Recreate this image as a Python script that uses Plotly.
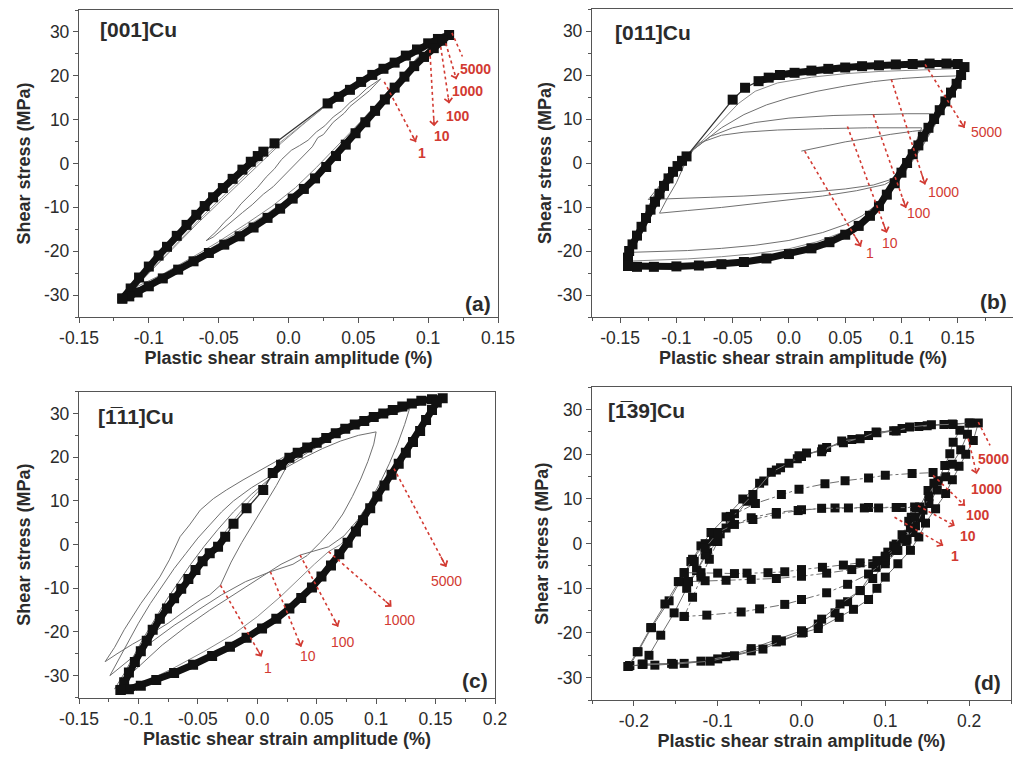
import plotly.graph_objects as go

W, H = 1021, 758
PAGE_OFFSET = 8  # the html body margin shifts the figure by this many pixels
RED = "#d23a32"
INK = "#2b2b2b"
GRAY = "#707070"
FONT = "Liberation Sans, Arial, sans-serif"

# ---------------- Panel (a) [001]Cu ----------------
a_sat_x = [-0.119, -0.113, -0.107, -0.100, -0.093, -0.087, -0.080, -0.073, -0.066, -0.060, -0.054, -0.047,
           -0.040, -0.033, -0.027, -0.022, -0.018, None, -0.010, None, 0.028, 0.036, 0.044, 0.052, 0.060,
           0.068, 0.076, 0.084, 0.092, 0.100, 0.107, 0.115,
           0.110, 0.104, 0.097, 0.090, 0.083, 0.076, 0.069, 0.062, 0.055, 0.048, 0.041, 0.034, 0.027, 0.019,
           0.011, 0.003, -0.006, -0.015, -0.025, -0.035, -0.046, -0.057, -0.068, -0.079, -0.090, -0.100,
           -0.108, -0.114, -0.119]
a_sat_y = [-30.8, -28.5, -26.0, -23.5, -21.0, -19.0, -16.5, -14.0, -11.7, -9.7, -7.7, -5.6,
           -3.5, -1.4, 0.4, 1.7, 2.7, None, 4.6, None, 13.7, 15.2, 16.8, 18.6, 20.2,
           21.6, 23.0, 24.6, 26.0, 27.4, 28.4, 29.3,
           28.0, 26.3, 24.3, 22.2, 19.8, 17.3, 14.6, 12.0, 9.4, 6.9, 4.3, 1.7, -0.8, -3.4,
           -5.8, -8.0, -10.3, -12.4, -14.6, -16.6, -18.5, -20.4, -22.3, -24.2, -26.2, -28.0,
           -29.4, -30.3, -30.8]
a_c1_x = [-0.059, -0.052, -0.046, -0.040, -0.034, -0.028, -0.022, -0.016, -0.010, -0.005, 0.002, 0.008, 0.014,
          0.020, 0.026, 0.032, 0.038, 0.044, 0.050, 0.056, 0.063, 0.066,
          0.058, 0.050, 0.044, 0.040, 0.032, 0.025, 0.021, 0.017, 0.010, 0.003, -0.004, -0.011, -0.018,
          -0.026, -0.033, -0.040, -0.047, -0.054, -0.059]
a_c1_y = [-17.6, -15.6, -13.4, -11.6, -9.2, -7.3, -5.4, -3.1, -1.2, 0.9, 3.0, 4.1, 5.3,
          7.2, 8.6, 10.6, 12.0, 13.9, 15.3, 17.1, 18.7, 19.3,
          16.6, 14.5, 13.0, 11.5, 9.4, 6.6, 5.9, 3.8, 1.5, -0.6, -3.0, -5.3, -7.0,
          -9.4, -11.2, -13.0, -14.9, -16.8, -17.6]
a_c10_x = [-0.110, -0.095, -0.080, -0.065, -0.050, -0.035, -0.020, -0.005, 0.010, 0.025, 0.040, 0.055, 0.070,
           0.085, 0.100, 0.090, 0.078, 0.065, 0.050, 0.035, 0.020, 0.005, -0.012, -0.030, -0.050, -0.070,
           -0.090, -0.110]
a_c10_y = [-28.3, -23.5, -18.5, -13.6, -9.0, -4.5, 0.3, 4.7, 8.8, 12.7, 16.2, 19.5, 22.2,
           24.6, 26.8, 23.4, 19.0, 14.2, 9.0, 4.0, -0.9, -5.5, -9.8, -13.7, -17.8, -21.6,
           -25.2, -28.3]
a_c100_x = [-0.116, -0.104, -0.090, -0.076, -0.062, -0.048, -0.034, -0.020, -0.006, 0.010, 0.026, 0.042,
            0.058, 0.074, 0.090, 0.109, 0.100, 0.088, 0.075, 0.061, 0.047, 0.032, 0.016, 0.000, -0.018,
            -0.038, -0.058, -0.078, -0.098, -0.116]
a_c100_y = [-29.8, -26.2, -21.6, -16.8, -12.2, -7.8, -3.4, 0.8, 4.8, 9.0, 13.0, 16.6,
            19.8, 22.8, 25.4, 27.6, 25.0, 20.8, 16.2, 11.2, 6.2, 1.2, -3.6, -8.0, -12.0,
            -16.0, -19.8, -23.4, -27.0, -29.8]
a_arrow_x0 = [0.0686, 0.1012, 0.1090, 0.1126, 0.1170]
a_arrow_y0 = [18.6, 25.9, 26.6, 27.4, 29.8]
a_arrow_x1 = [0.0912, 0.1043, 0.1150, 0.1202, 0.1245]
a_arrow_y1 = [4.9, 8.5, 13.7, 19.2, 24.4]
a_label_x = [0.0959, 0.1098, 0.1214, 0.1280, 0.1336]
a_label_y = [2.3, 6.2, 10.9, 16.6, 21.5]
cycle_labels = ["1", "10", "100", "1000", "5000"]

# ---------------- Panel (b) [011]Cu ----------------
b_sat_x = [-0.143, -0.143, -0.142, -0.139, -0.135, -0.131, -0.127, -0.123, -0.119, -0.115, -0.111, -0.107,
           -0.103, -0.099, -0.095, -0.091, None, -0.050, None, -0.039, None, -0.027, -0.018, -0.008, 0.005,
           0.020, 0.035, 0.050, 0.065, 0.080, 0.095, 0.110, 0.125, 0.140, 0.150, 0.156,
           0.153, 0.149, 0.144, 0.139, 0.134, 0.129, 0.124, 0.119, 0.115, 0.110, 0.105, 0.100, 0.094, 0.087,
           0.080, 0.072, 0.062, 0.050, 0.036, 0.020, 0.000, -0.020, -0.040, -0.060, -0.080, -0.100, -0.120,
           -0.135, -0.143]
b_sat_y = [-23.4, -21.5, -20.0, -18.5, -16.5, -14.5, -12.5, -10.6, -8.8, -7.0, -5.2, -3.5,
           -2.0, -0.7, 0.5, 1.5, None, 14.4, None, 17.1, None, 18.6, 19.4, 20.0, 20.5,
           21.0, 21.4, 21.7, 22.0, 22.2, 22.4, 22.5, 22.6, 22.6, 22.5, 21.8,
           20.0, 18.0, 16.0, 14.0, 12.0, 10.0, 8.0, 6.0, 4.0, 2.0, 0.0, -2.2, -4.6, -7.2,
           -9.8, -12.0, -14.3, -16.3, -18.0, -19.4, -20.7, -21.7, -22.5, -23.0, -23.3, -23.5, -23.6,
           -23.6, -23.4]
b_init_x = [0.011, 0.030, 0.050, 0.070, 0.090, 0.110, 0.120]
b_init_y = [2.7, 3.8, 4.8, 5.6, 6.5, 7.2, 7.5]
b_c1_x = [-0.125, -0.118, -0.110, -0.102, -0.095, -0.090, -0.080, -0.060, -0.040, -0.010, 0.030, 0.070,
          0.118, 0.114, 0.110, 0.106, 0.100, 0.090, 0.075, 0.050, 0.020, -0.010, -0.040, -0.070,
          -0.100, -0.125]
b_c1_y = [-8.3, -6.2, -3.6, -1.2, 0.6, 1.6, 4.5, 6.3, 7.0, 7.5, 7.8, 8.0,
          8.0, 5.5, 3.0, 0.5, -1.8, -3.8, -5.0, -5.9, -6.6, -7.1, -7.5, -7.8,
          -8.0, -8.3]
b_c10_x = [-0.115, -0.108, -0.100, -0.094, -0.088, -0.085, -0.070, -0.050, -0.030, 0.000, 0.040, 0.080,
           0.105, 0.128, 0.124, 0.119, 0.113, 0.106, 0.098, 0.085, 0.060, 0.030, 0.000, -0.030, -0.060,
           -0.090, -0.115]
b_c10_y = [-11.4, -8.0, -4.5, -1.0, 1.8, 3.0, 6.0, 8.0, 9.2, 10.2, 10.8, 11.1,
           11.2, 11.2, 8.0, 5.0, 2.0, -0.8, -3.0, -4.9, -6.3, -7.5, -8.4, -9.3, -10.1,
           -10.8, -11.4]
b_c100_x = [-0.140, -0.137, -0.132, -0.125, -0.117, -0.108, -0.098, -0.090, -0.075, -0.060, -0.040, -0.020,
            0.000, 0.025, 0.050, 0.075, 0.100, 0.125, 0.150, 0.148, 0.142, 0.136, 0.128, 0.120, 0.112,
            0.104, 0.096, 0.088, 0.078, 0.065, 0.050, 0.030, 0.000, -0.030, -0.060, -0.090, -0.120, -0.140]
b_c100_y = [-20.3, -17.5, -14.0, -10.0, -6.0, -2.5, 0.5, 2.0, 5.0, 8.0, 11.0, 13.2,
            14.8, 16.3, 17.5, 18.5, 19.2, 19.6, 19.8, 17.5, 14.5, 11.5, 8.0, 4.5, 1.5,
            -1.5, -4.5, -7.0, -9.5, -12.0, -14.0, -15.8, -17.6, -18.7, -19.4, -19.9, -20.2, -20.3]
b_c1000_x = [-0.143, -0.140, -0.134, -0.126, -0.117, -0.107, -0.097, -0.088, -0.075, -0.060, -0.045, -0.030,
             -0.010, 0.020, 0.050, 0.080, 0.110, 0.135, 0.155, 0.152, 0.146, 0.140, 0.133, 0.126, 0.118,
             0.110, 0.102, 0.094, 0.085, 0.075, 0.062, 0.045, 0.025, 0.000, -0.030, -0.060, -0.090,
             -0.120, -0.143]
b_c1000_y = [-22.3, -19.0, -15.0, -10.5, -6.0, -2.2, 0.8, 2.5, 5.5, 9.5, 13.5, 16.3,
             18.2, 19.5, 20.3, 20.8, 21.1, 21.3, 21.5, 19.0, 16.0, 13.0, 10.0, 7.0, 3.5,
             0.5, -2.5, -5.5, -8.5, -11.3, -13.8, -16.0, -17.9, -19.5, -20.6, -21.3, -21.8,
             -22.1, -22.3]
b_arrow_x0 = [0.014, 0.052, 0.075, 0.091, 0.121]
b_arrow_y0 = [2.7, 8.3, 11.0, 19.0, 22.4]
b_arrow_x1 = [0.064, 0.087, 0.104, 0.121, 0.156]
b_arrow_y1 = [-19.0, -15.9, -10.2, -4.9, 8.0]
b_label_x = [0.072, 0.0895, 0.116, 0.137, 0.1755]
b_label_y = [-20.5, -18.1, -11.4, -6.7, 7.0]

# ---------------- Panel (c) [-111]Cu ----------------
c_sat_x = [-0.115, -0.112, -0.108, -0.103, -0.098, -0.093, -0.088, -0.082, -0.076, -0.070, -0.064, -0.058,
           -0.052, -0.046, -0.040, -0.033, -0.027, None, -0.020, None, -0.009, None, 0.005, None, 0.013,
           0.020, 0.027, 0.034, 0.042, 0.050, 0.058, 0.066, 0.074, 0.082, 0.090, 0.098, 0.106, 0.114,
           0.122, 0.130, 0.138, 0.147, 0.156,
           0.151, 0.147, 0.142, 0.137, 0.131, 0.125, 0.119, 0.113, 0.107, 0.101, 0.095, 0.089, 0.083,
           0.076, 0.069, 0.062, 0.054, 0.046, 0.037, 0.027, 0.016, 0.004, -0.009, -0.023, -0.038, -0.054,
           -0.070, -0.085, -0.098, -0.108, -0.115]
c_sat_y = [-33.3, -31.5, -29.3, -26.9, -24.4, -22.0, -19.5, -17.0, -14.6, -12.3, -10.1, -7.9,
           -5.8, -3.8, -2.0, -0.5, 1.8, None, 4.8, None, 8.3, None, 12.5, None, 16.4,
           18.3, 19.9, 21.0, 22.2, 23.3, 24.4, 25.5, 26.5, 27.5, 28.3, 29.2, 30.0, 30.8,
           31.6, 32.3, 32.9, 33.3, 33.5,
           32.5, 30.8, 28.5, 26.0, 23.5, 21.0, 18.5, 16.0, 13.5, 11.0, 8.3, 5.6, 3.0,
           0.4, -2.2, -4.8, -7.3, -9.8, -12.2, -14.6, -17.0, -19.2, -21.3, -23.4, -25.5, -27.5,
           -29.4, -31.0, -32.3, -33.1, -33.3]
c_c1_x = [-0.128, -0.120, -0.112, -0.105, -0.098, -0.090, -0.082, -0.074, -0.065, -0.057, -0.048, -0.037,
          -0.026, -0.012, 0.002, 0.012, 0.022, 0.025, 0.024, 0.016, 0.007, -0.003, -0.013, -0.022, -0.031,
          -0.040, -0.048, -0.060, -0.075, -0.090, -0.105, -0.118, -0.128]
c_c1_y = [-26.8, -23.5, -19.5, -16.5, -13.5, -10.5, -7.4, -3.5, 1.8, 4.5, 7.9, 10.5,
          12.5, 14.8, 17.0, 18.6, 20.0, 20.2, 17.5, 13.5, 9.5, 5.0, 0.5, -4.0, -9.3,
          -11.5, -12.7, -15.0, -18.0, -20.5, -22.8, -25.0, -26.8]
c_c10_x = [-0.124, -0.116, -0.108, -0.100, -0.090, -0.080, -0.070, -0.060, -0.050, -0.040, -0.030, -0.020,
           -0.005, 0.010, 0.025, 0.040, 0.055, 0.070, 0.085, 0.100, 0.098, 0.093, 0.087, 0.080, 0.072,
           0.063, 0.053, 0.042, 0.030, 0.011, -0.010, -0.030, -0.050, -0.070, -0.090, -0.108, -0.124]
c_c10_y = [-30.0, -26.0, -22.0, -18.0, -13.5, -9.5, -5.5, -2.0, 1.5, 4.5, 7.5, 10.0,
           13.0, 15.5, 17.8, 20.0, 22.0, 23.7, 25.0, 25.8, 23.0, 19.0, 15.0, 11.0, 7.0,
           3.5, 0.5, -2.5, -4.5, -6.2, -8.5, -11.5, -15.0, -18.5, -22.5, -26.5, -30.0]
c_c100_x = [-0.120, -0.112, -0.104, -0.096, -0.086, -0.076, -0.066, -0.056, -0.045, -0.033, -0.020, -0.005,
            0.010, 0.027, 0.045, 0.065, 0.085, 0.105, 0.128, 0.124, 0.118, 0.111, 0.103, 0.094, 0.084,
            0.073, 0.060, 0.036, 0.020, 0.000, -0.020, -0.040, -0.060, -0.080, -0.100, -0.120]
c_c100_y = [-33.0, -29.5, -25.5, -21.5, -17.0, -12.5, -8.5, -4.5, -0.5, 3.5, 7.5, 11.5,
            15.0, 18.5, 21.5, 24.5, 27.0, 29.2, 31.0, 27.5, 23.0, 18.5, 14.0, 9.5, 5.5,
            2.0, -0.5, -2.4, -4.5, -8.0, -11.5, -15.0, -18.8, -23.0, -28.0, -33.0]
c_c1000_x = [-0.118, -0.110, -0.100, -0.090, -0.080, -0.070, -0.060, -0.050, -0.040, -0.030, -0.018, -0.005,
             0.010, 0.025, 0.045, 0.065, 0.085, 0.105, 0.125, 0.148, 0.143, 0.136, 0.128, 0.120, 0.111,
             0.102, 0.092, 0.081, 0.070, 0.060, 0.048, 0.035, 0.020, 0.000, -0.020, -0.045, -0.070,
             -0.095, -0.118]
c_c1000_y = [-33.5, -29.5, -25.0, -21.0, -17.0, -13.0, -9.2, -5.5, -1.8, 2.0, 6.2, 10.5,
             14.8, 18.6, 22.2, 25.4, 28.0, 30.3, 32.0, 33.0, 30.0, 26.5, 22.5, 18.6, 14.5,
             10.5, 6.5, 2.8, 0.0, -1.6, -4.5, -8.0, -11.8, -16.5, -20.5, -24.5, -28.2,
             -31.5, -33.5]
c_arrow_x0 = [-0.031, 0.011, 0.036, 0.060, 0.115]
c_arrow_y0 = [-9.3, -6.2, -2.4, -1.6, 17.4]
c_arrow_x1 = [0.0036, 0.037, 0.068, 0.113, 0.159]
c_arrow_y1 = [-25.7, -23.4, -18.8, -14.2, -5.1]
c_label_x = [0.009, 0.043, 0.072, 0.120, 0.159]
c_label_y = [-28.3, -25.6, -22.2, -17.3, -8.3]

# ---------------- Panel (d) [-139]Cu ----------------
d_o1_x = [-0.207, -0.196, -0.180, -0.163, -0.147, -0.130, -0.115, -0.097, -0.080, -0.058, -0.036, -0.015,
          -0.003, 0.006, 0.024, 0.048, 0.070, 0.089, 0.113, 0.129, 0.155, 0.181, 0.201,
          0.189, 0.181, 0.177, 0.171, 0.163, 0.151, 0.141, 0.131, 0.121, 0.113, 0.103, 0.089, 0.070,
          0.046, 0.024, 0.002, -0.024, -0.046, -0.080, -0.109, -0.153, -0.189, -0.207]
d_o1_y = [-27.5, -24.2, -18.8, -13.5, -8.5, -3.5, 0.0, 2.2, 6.7, 11.0, 16.0, 18.0,
          19.7, 20.3, 20.6, 23.0, 23.5, 25.0, 25.2, 26.1, 26.6, 26.7, 27.0,
          25.4, 22.7, 20.1, 17.5, 14.1, 11.9, 8.2, 5.9, 1.4, -0.1, -1.9, -5.3, -10.5,
          -13.5, -16.9, -19.9, -21.8, -23.6, -25.1, -26.3, -27.0, -27.0, -27.5]
d_o2_x = [-0.190, -0.182, -0.168, -0.152, -0.137, -0.125, -0.112, -0.100, -0.085, -0.065, -0.045, -0.025,
          0.000, 0.025, 0.050, 0.080, 0.110, 0.140, 0.170, 0.200,
          0.198, 0.190, 0.180, 0.172, 0.162, 0.152, 0.142, 0.133, 0.125, 0.115, 0.100, 0.085, 0.070,
          0.055, 0.040, 0.020, 0.000, -0.030, -0.060, -0.090, -0.120, -0.155, -0.190]
d_o2_y = [-27.0, -25.0, -20.5, -15.5, -10.0, -6.0, -2.0, 0.5, 4.5, 9.5, 14.0, 17.0,
          19.5, 21.2, 22.6, 24.2, 25.3, 26.2, 26.7, 27.0,
          24.5, 21.0, 17.8, 15.0, 12.0, 9.0, 5.8, 2.5, 0.5, -1.5, -4.5, -7.8, -10.5,
          -13.0, -15.5, -18.0, -19.5, -21.5, -23.5, -25.3, -26.3, -26.8, -27.0]
d_o3_x = [-0.205, -0.195, -0.179, -0.158, -0.145, -0.132, -0.120, -0.108, -0.090, -0.070, -0.050, -0.030,
          -0.005, 0.030, 0.060, 0.090, 0.120, 0.150, 0.180, 0.211,
          0.205, 0.196, 0.188, 0.180, 0.172, 0.160, 0.148, 0.140, 0.130, 0.115, 0.100, 0.090, 0.080,
          0.062, 0.045, 0.020, 0.000, -0.030, -0.060, -0.100, -0.140, -0.175, -0.205]
d_o3_y = [-27.3, -24.2, -18.8, -12.8, -8.5, -4.0, -0.5, 2.5, 6.0, 10.0, 13.5, 16.5,
          19.0, 21.5, 23.3, 24.8, 25.8, 26.4, 26.8, 27.0,
          23.1, 20.0, 17.3, 14.3, 11.2, 7.8, 4.6, 1.5, -1.5, -4.5, -7.5, -10.0, -12.5,
          -14.7, -16.5, -19.0, -20.0, -22.0, -24.0, -25.8, -26.8, -27.2, -27.3]
d_m10_x = [-0.140, -0.130, -0.120, -0.110, -0.100, -0.085, -0.055, -0.024, -0.003, 0.028, 0.052, 0.080,
           0.100, 0.132, 0.157, 0.158, 0.152, 0.145, 0.136, 0.126, 0.113, 0.100, 0.080, 0.055, 0.030,
           0.000, -0.020, -0.050, -0.072, -0.113, -0.140]
d_m10_y = [-16.3, -12.0, -7.5, -3.5, 0.5, 6.1, 9.0, 11.0, 12.2, 13.4, 14.1, 14.7,
           15.3, 15.7, 15.9, 13.5, 10.5, 7.5, 4.0, 1.0, -1.5, -3.8, -6.8, -9.1, -11.0,
           -12.5, -13.6, -14.6, -15.3, -16.0, -16.3]
d_m1_x = [-0.140, -0.128, -0.115, -0.100, -0.080, -0.058, -0.030, -0.004, 0.024, 0.056, 0.075, 0.092,
          0.113, 0.137, 0.135, 0.130, 0.123, 0.113, 0.100, 0.090, 0.070, 0.050, 0.025, 0.000, -0.020,
          -0.040, -0.065, -0.080, -0.100, -0.120, -0.140]
d_m1_y = [-6.5, -4.0, -1.0, 2.5, 4.3, 5.4, 6.6, 7.4, 7.9, 8.0, 8.0, 8.0,
          8.1, 8.1, 6.0, 3.5, 1.0, -1.0, -3.0, -3.8, -4.3, -4.8, -5.3, -5.8, -6.3,
          -6.5, -6.6, -6.7, -6.6, -6.5, -6.5]
d_m1b_x = [-0.135, -0.125, -0.115, -0.105, -0.090, -0.060, -0.030, 0.000, 0.040, 0.080, 0.120, 0.135,
           0.128, 0.120, 0.110, 0.100, 0.085, 0.060, 0.030, 0.000, -0.030, -0.060, -0.090, -0.115, -0.135]
d_m1b_y = [-8.5, -6.0, -2.5, 0.5, 3.5, 5.8, 7.0, 7.6, 8.0, 8.1, 8.1, 8.2,
           5.0, 2.0, -0.5, -2.8, -4.5, -5.8, -6.6, -7.3, -7.8, -8.0, -8.2, -8.3, -8.5]
d_arrow_x0 = [0.111, 0.139, 0.157, 0.199, 0.211]
d_arrow_y0 = [5.9, 8.5, 15.3, 23.5, 27.2]
d_arrow_x1 = [0.169, 0.183, 0.195, 0.209, 0.225]
d_arrow_y1 = [-0.4, 4.0, 8.5, 15.6, 22.0]
d_label_x = [0.183, 0.199, 0.211, 0.221, 0.229]
d_label_y = [-2.7, 1.8, 6.5, 12.3, 19.0]

# ---------------- Axes ----------------
y_ticks = [-30, -20, -10, 0, 10, 20, 30]
x_ticks_a = [-0.15, -0.1, -0.05, 0.0, 0.05, 0.1, 0.15]
x_text_a = ["-0.15", "-0.1", "-0.05", "0.0", "0.05", "0.1", "0.15"]
x_ticks_c = [-0.15, -0.1, -0.05, 0.0, 0.05, 0.1, 0.15, 0.2]
x_text_c = ["-0.15", "-0.1", "-0.05", "0.0", "0.05", "0.1", "0.15", "0.2"]
x_ticks_d = [-0.2, -0.1, 0.0, 0.1, 0.2]
x_text_d = ["-0.2", "-0.1", "0.0", "0.1", "0.2"]

fig = go.Figure()


def refs(i):
    s = "" if i == 1 else str(i)
    return "x" + s, "y" + s


def gray(xs, ys, i, dash="solid", width=1.0, color=GRAY, markers=False):
    xr, yr = refs(i)
    fig.add_trace(go.Scatter(
        x=xs, y=ys, xaxis=xr, yaxis=yr, mode="lines+markers" if markers else "lines",
        line=dict(color=color, width=width, dash=dash),
        marker=dict(symbol="square", size=9, color="#111111"),
        showlegend=False, hoverinfo="skip"))


def band(xs, ys, i):
    xr, yr = refs(i)
    fig.add_trace(go.Scatter(
        x=xs, y=ys, xaxis=xr, yaxis=yr, mode="lines", connectgaps=True,
        line=dict(color="#333333", width=1.3), showlegend=False, hoverinfo="skip"))
    fig.add_trace(go.Scatter(
        x=xs, y=ys, xaxis=xr, yaxis=yr, mode="lines+markers", connectgaps=False,
        line=dict(color="#111111", width=7), marker=dict(symbol="square", size=10, color="#111111"),
        showlegend=False, hoverinfo="skip"))


def arrows(x0s, y0s, x1s, y1s, lx, ly, i, bold):
    xr, yr = refs(i)
    for x0, y0, x1, y1, tx, ty, lab in zip(x0s, y0s, x1s, y1s, lx, ly, cycle_labels):
        fig.add_trace(go.Scatter(
            x=[x0, x1], y=[y0, y1], xaxis=xr, yaxis=yr, mode="lines",
            line=dict(color=RED, width=1.6, dash="dot"), showlegend=False, hoverinfo="skip"))
        fig.add_annotation(
            x=x1, y=y1, xref=xr, yref=yr, ax=x1 - 0.12 * (x1 - x0), ay=y1 - 0.12 * (y1 - y0),
            axref=xr, ayref=yr, showarrow=True, arrowhead=4, arrowsize=1.1, arrowwidth=1.4,
            arrowcolor=RED, text="")
        fig.add_annotation(
            x=tx, y=ty, xref=xr, yref=yr, showarrow=False, text=lab,
            font=dict(family=FONT, size=14, color=RED, weight="bold" if bold else "normal"))


# panel a
gray(a_c1_x, a_c1_y, 1)
gray(a_c10_x, a_c10_y, 1, color="#8a8a8a")
gray(a_c100_x, a_c100_y, 1, color="#9a9a9a")
band(a_sat_x, a_sat_y, 1)
arrows(a_arrow_x0, a_arrow_y0, a_arrow_x1, a_arrow_y1, a_label_x, a_label_y, 1, True)

# panel b
gray(b_init_x, b_init_y, 2)
gray(b_c1_x, b_c1_y, 2)
gray(b_c10_x, b_c10_y, 2)
gray(b_c100_x, b_c100_y, 2)
gray(b_c1000_x, b_c1000_y, 2, color="#8a8a8a")
band(b_sat_x, b_sat_y, 2)
arrows(b_arrow_x0, b_arrow_y0, b_arrow_x1, b_arrow_y1, b_label_x, b_label_y, 2, False)

# panel c
gray(c_c1_x, c_c1_y, 3)
gray(c_c10_x, c_c10_y, 3)
gray(c_c100_x, c_c100_y, 3)
gray(c_c1000_x, c_c1000_y, 3, color="#8a8a8a")
band(c_sat_x, c_sat_y, 3)
arrows(c_arrow_x0, c_arrow_y0, c_arrow_x1, c_arrow_y1, c_label_x, c_label_y, 3, False)

# panel d
gray(d_o3_x, d_o3_y, 4, markers=True)
gray(d_o2_x, d_o2_y, 4, markers=True)
gray(d_o1_x, d_o1_y, 4, markers=True)
gray(d_m10_x, d_m10_y, 4, dash="dashdot", markers=True)
gray(d_m1b_x, d_m1b_y, 4, dash="dashdot", markers=True)
gray(d_m1_x, d_m1_y, 4, dash="dashdot", markers=True)
arrows(d_arrow_x0, d_arrow_y0, d_arrow_x1, d_arrow_y1, d_label_x, d_label_y, 4, True)


def px(xl, xr_, yt, yb):
    o = PAGE_OFFSET
    return [(xl - o) / W, (xr_ - o) / W], [1 - (yb - o) / H, 1 - (yt - o) / H]


doms = [px(79, 498, 10, 317), px(592, 1014, 9, 317), px(79, 495, 391.7, 697.5), px(592, 1011, 387.3, 700)]
xranges = [[-0.15, 0.15], [-0.175, 0.2], [-0.15, 0.2], [-0.25, 0.25]]
xtv = [x_ticks_a, x_ticks_a, x_ticks_c, x_ticks_d]
xtt = [x_text_a, x_text_a, x_text_c, x_text_d]
xminor = [0.025, 0.025, 0.025, 0.05]
ytitle_standoff = [8, 0, 8, 3]

axis_common = dict(showline=True, mirror=True, linecolor="#555555", linewidth=1.3, ticks="outside",
                   ticklen=5, tickwidth=1.2, tickcolor="#555555", showgrid=False, zeroline=False,
                   automargin=False, tickfont=dict(family=FONT, size=17.5, color=INK))
layout = {}
for k in range(4):
    s = "" if k == 0 else str(k + 1)
    xd, yd = doms[k]
    layout["xaxis" + s] = dict(
        axis_common, domain=xd, range=xranges[k], anchor="y" + s, tickvals=xtv[k], ticktext=xtt[k],
        minor=dict(dtick=xminor[k], tick0=0, ticks="outside", ticklen=3, tickcolor="#555555"),
        title=dict(text="Plastic shear strain amplitude (%)", standoff=2,
                   font=dict(family=FONT, size=18, color=INK, weight="bold")))
    layout["yaxis" + s] = dict(
        axis_common, domain=yd, range=[-35, 35], anchor="x" + s, tickvals=y_ticks,
        ticktext=[str(v) for v in y_ticks],
        minor=dict(dtick=5, tick0=0, ticks="outside", ticklen=3, tickcolor="#555555"),
        title=dict(text="Shear stress (MPa)", standoff=ytitle_standoff[k],
                   font=dict(family=FONT, size=18, color=INK, weight="bold")))

fig.update_layout(width=W, height=H, margin=dict(l=0, r=0, t=0, b=0, autoexpand=False),
                  paper_bgcolor="white", plot_bgcolor="white", showlegend=False, **layout)

panel_names = ["[001]Cu", "[011]Cu", "[1\u030511]Cu", "[1\u030539]Cu"]
panel_tags = ["(a)", "(b)", "(c)", "(d)"]
name_pos = [(0.045, 0.935), (0.05, 0.925), (0.04, 0.92), (0.033, 0.925)]
tag_pos = [(0.987, 0.045), (0.987, 0.05), (0.987, 0.055), (0.982, 0.055)]
for k in range(4):
    s = "" if k == 0 else str(k + 1)
    fig.add_annotation(x=name_pos[k][0], y=name_pos[k][1], xref="x" + s + " domain", yref="y" + s + " domain",
                       text=panel_names[k], showarrow=False, xanchor="left", yanchor="middle",
                       font=dict(family=FONT, size=21, color=INK, weight="bold"))
    fig.add_annotation(x=tag_pos[k][0], y=tag_pos[k][1], xref="x" + s + " domain", yref="y" + s + " domain",
                       text=panel_tags[k], showarrow=False, xanchor="right", yanchor="middle",
                       font=dict(family=FONT, size=21, color=INK, weight="bold"))

fig.write_html("out.html")
